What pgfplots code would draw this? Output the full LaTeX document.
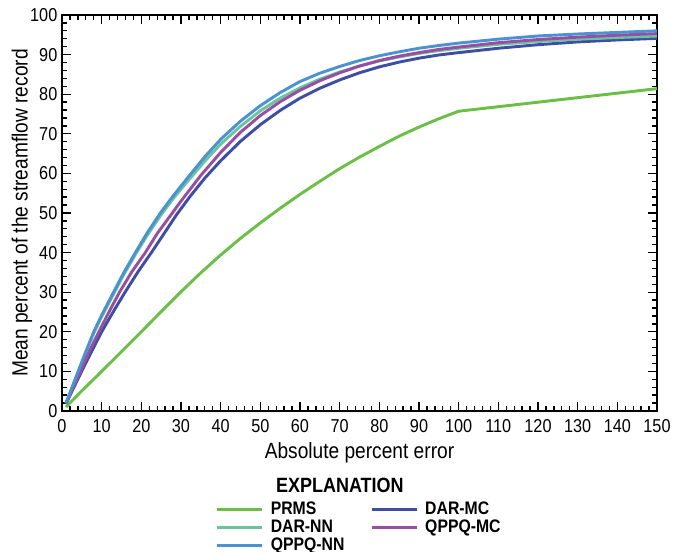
\documentclass[border=0pt]{standalone}
\usepackage{fontspec}
\setmainfont{Liberation Sans}[FakeStretch=0.87]
\usepackage{pgfplots}
\pgfplotsset{compat=1.18}
\definecolor{cPRMS}{HTML}{6CBF46}
\definecolor{cDARNN}{HTML}{6CC49E}
\definecolor{cQPPQNN}{HTML}{4A92D0}
\definecolor{cDARMC}{HTML}{3E4EA2}
\definecolor{cQPPQMC}{HTML}{984EA3}
\begin{document}
\begin{tikzpicture}
\useasboundingbox (0,0) rectangle (514.5pt,414pt);
\begin{axis}[
  at={(46.5pt,105.75pt)}, anchor=south west,
  scale only axis, width=446.25pt, height=297pt,
  xmin=0, xmax=150, ymin=0, ymax=100,
  xtick={0,10,...,150}, ytick={0,10,...,100},
  minor x tick num=4, minor y tick num=4,
  tick align=inside,
  major tick length=7pt, minor tick length=3.8pt,
  axis line style={line width=1.2pt},
  every tick/.style={black, line width=1pt},
  tick label style={font=\fontsize{14}{15}\selectfont},
  xticklabel style={yshift=-2.5pt},
  /pgf/number format/assume math mode=true,
  xlabel={Absolute percent error},
  ylabel={Mean percent of the streamflow record},
  every axis x label/.style={at={(axis description cs:0.5,-0.1055)}, anchor=center, font=\fontsize{16.5}{18}\selectfont},
  every axis y label/.style={at={(axis description cs:-0.0672,0.5)}, rotate=90, anchor=center, font=\fontsize{16.5}{18}\selectfont},
  legend style={at={(0.251,-0.219)}, anchor=north west, draw=none, fill=none,
    font=\bfseries\fontsize{13.6}{14}\selectfont,
    nodes={inner sep=1.2pt},
    /tikz/every even column/.append style={column sep=18pt},
    /tikz/every odd column/.append style={column sep=4pt}},
  legend cell align=left, legend columns=2,
  legend image code/.code={\draw[#1, line width=2.2pt] (0pt,0pt) -- (34pt,0pt);},
  clip mode=individual,
]
\addplot[cPRMS, line width=2.2pt] coordinates {(1,1.0) (5,5.1) (10,10.0) (15,15.0) (20,20.0) (25,25.1) (30,30.1) (35,34.9) (40,39.4) (45,43.6) (50,47.5) (55,51.2) (60,54.7) (65,58.0) (70,61.2) (75,64.1) (80,66.8) (85,69.4) (90,71.7) (95,73.8) (100,75.7) (150,81.4)};
\addlegendentry{PRMS}
\addplot[cDARMC, line width=2.2pt] coordinates {(1,1.8) (3,6.0) (5,10.1) (7.5,15.1) (10,20) (13,25.2) (15.9,30) (19.2,35.2) (22.6,40.1) (25.8,44.9) (28.9,49.6) (32.3,54.2) (36,58.8) (40,63.2) (45,68.1) (50,72.3) (55,75.9) (60,79.0) (65,81.5) (70,83.6) (75,85.4) (80,86.9) (85,88.1) (90,89.1) (95,89.9) (100,90.5) (110,91.6) (120,92.5) (130,93.2) (140,93.7) (150,94.1)};
\addlegendentry{DAR-MC}
\addplot[cDARNN, line width=2.2pt] coordinates {(1,2.0) (2,4.5) (4,9.6) (6,14.7) (8,19.6) (10,23.8) (13,29.5) (15.5,34.3) (18.5,39.5) (21.5,44.4) (24.8,49.3) (28,53.6) (32,58.4) (36,63.1) (40,67.4) (45,71.9) (50,75.8) (55,79.0) (60,81.6) (65,83.8) (70,85.6) (75,87.1) (80,88.4) (85,89.4) (90,90.3) (95,91.0) (100,91.6) (110,92.6) (120,93.3) (130,93.9) (140,94.3) (150,94.7)};
\addlegendentry{DAR-NN}
\addplot[cQPPQMC, line width=2.2pt] coordinates {(1,1.9) (3,6.4) (5,10.8) (7,15.3) (9.3,20) (12,25.3) (14.5,30) (17.5,35) (21,40.0) (24,44.8) (27.3,49.3) (30,53) (32.3,56) (35,59.5) (40,65.3) (45,70.4) (50,74.6) (55,78.1) (60,81.0) (65,83.4) (70,85.4) (75,87.1) (80,88.5) (85,89.6) (90,90.5) (95,91.3) (100,91.9) (110,93.0) (120,93.8) (130,94.4) (140,94.9) (150,95.3)};
\addlegendentry{QPPQ-MC}
\addplot[cQPPQNN, line width=2.2pt] coordinates {(1,2.0) (2,4.6) (4,9.8) (6,15.0) (8,20.0) (10,24.2) (13,30) (15.5,34.8) (18.5,40) (21.5,45) (24.8,50) (28,54.3) (32,59.3) (36,64.2) (40,68.6) (45,73.2) (50,77.1) (55,80.4) (60,83.2) (65,85.3) (70,87.0) (75,88.5) (80,89.7) (85,90.7) (90,91.6) (95,92.3) (100,92.9) (110,93.9) (120,94.7) (130,95.2) (140,95.6) (150,96.0)};
\addlegendentry{QPPQ-NN}
\node[font=\bfseries\fontsize{15.5}{16}\selectfont, anchor=center] at (axis description cs:0.467,-0.187) {EXPLANATION};
\end{axis}
\end{tikzpicture}
\end{document}
